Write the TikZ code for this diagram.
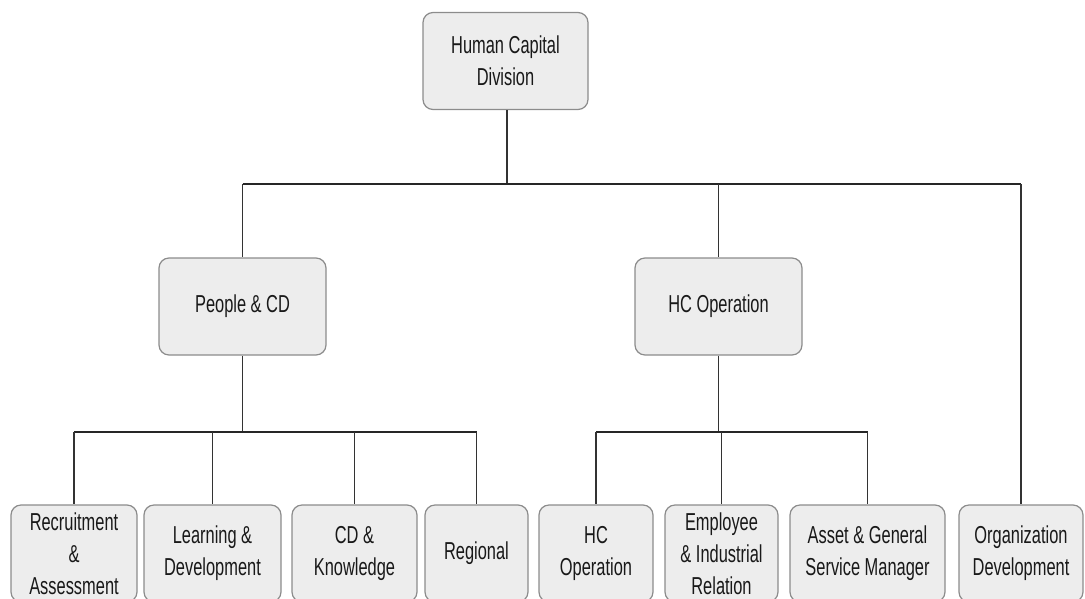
\documentclass[tikz,border=0pt]{standalone}
\usepackage{fontspec}
\newfontfamily\boxfont[FakeStretch=0.67]{Liberation Sans}
\begin{document}
\begin{tikzpicture}[x=1pt,y=-1pt,
    box/.style={draw=black!45,line width=1.2pt,fill=black!7,rounded corners=10pt,
      minimum height=97pt,inner sep=2pt,align=center,text=black!90,
      font=\boxfont\fontsize{24.5}{32}\selectfont},
    link/.style={black!80,line width=1.9pt},
    bus/.style={black!85,line width=2.8pt}]
  \useasboundingbox (0,0) rectangle (1085,598);
  \clip (0,0) rectangle (1085,598);
  % top level
  \node[box,minimum width=165pt] (top) at (505.5,61) {Human Capital\\Division};
  % second level
  \node[box,minimum width=167pt] (people) at (242.5,306.5) {People \& CD};
  \node[box,minimum width=167pt] (hcop) at (718.5,306.5) {HC Operation};
  % third level
  \pgfmathsetmacro\ybot{553.5}
  \node[box,minimum width=126pt] (recruit) at (74,\ybot) {Recruitment\\\&\\Assessment};
  \node[box,minimum width=137pt] (learn) at (212.5,\ybot) {Learning \&\\Development};
  \node[box,minimum width=125pt] (cdk) at (354.5,\ybot) {CD \&\\Knowledge};
  \node[box,minimum width=103pt] (regional) at (476.5,\ybot) {Regional};
  \node[box,minimum width=114pt] (hcsub) at (596,\ybot) {HC\\Operation};
  \node[box,minimum width=113pt] (employee) at (721.5,\ybot) {Employee\\\& Industrial\\Relation};
  \node[box,minimum width=155pt] (asset) at (867.5,\ybot) {Asset \& General\\Service Manager};
  \node[box,minimum width=124pt] (orgdev) at (1021,\ybot) {Organization\\Development};
  % connectors
  \coordinate (bus1) at (507,184);
  \coordinate (bus2) at (242.5,432);
  \coordinate (bus3) at (718.5,432);
  \draw[link] (top.south -| bus1) -- (bus1);
  \draw[bus] (people.north |- bus1) -- (orgdev.north |- bus1);
  \foreach \n in {people,hcop,orgdev} {
    \draw[link] (\n.north |- bus1) -- (\n.north);
  }
  \draw[link] (people.south) -- (bus2);
  \draw[bus] (recruit.north |- bus2) -- (regional.north |- bus2);
  \foreach \n in {recruit,learn,cdk,regional} {
    \draw[link] (\n.north |- bus2) -- (\n.north);
  }
  \draw[link] (hcop.south) -- (bus3);
  \draw[bus] (hcsub.north |- bus3) -- (asset.north |- bus3);
  \foreach \n in {hcsub,employee,asset} {
    \draw[link] (\n.north |- bus3) -- (\n.north);
  }
\end{tikzpicture}
\end{document}
